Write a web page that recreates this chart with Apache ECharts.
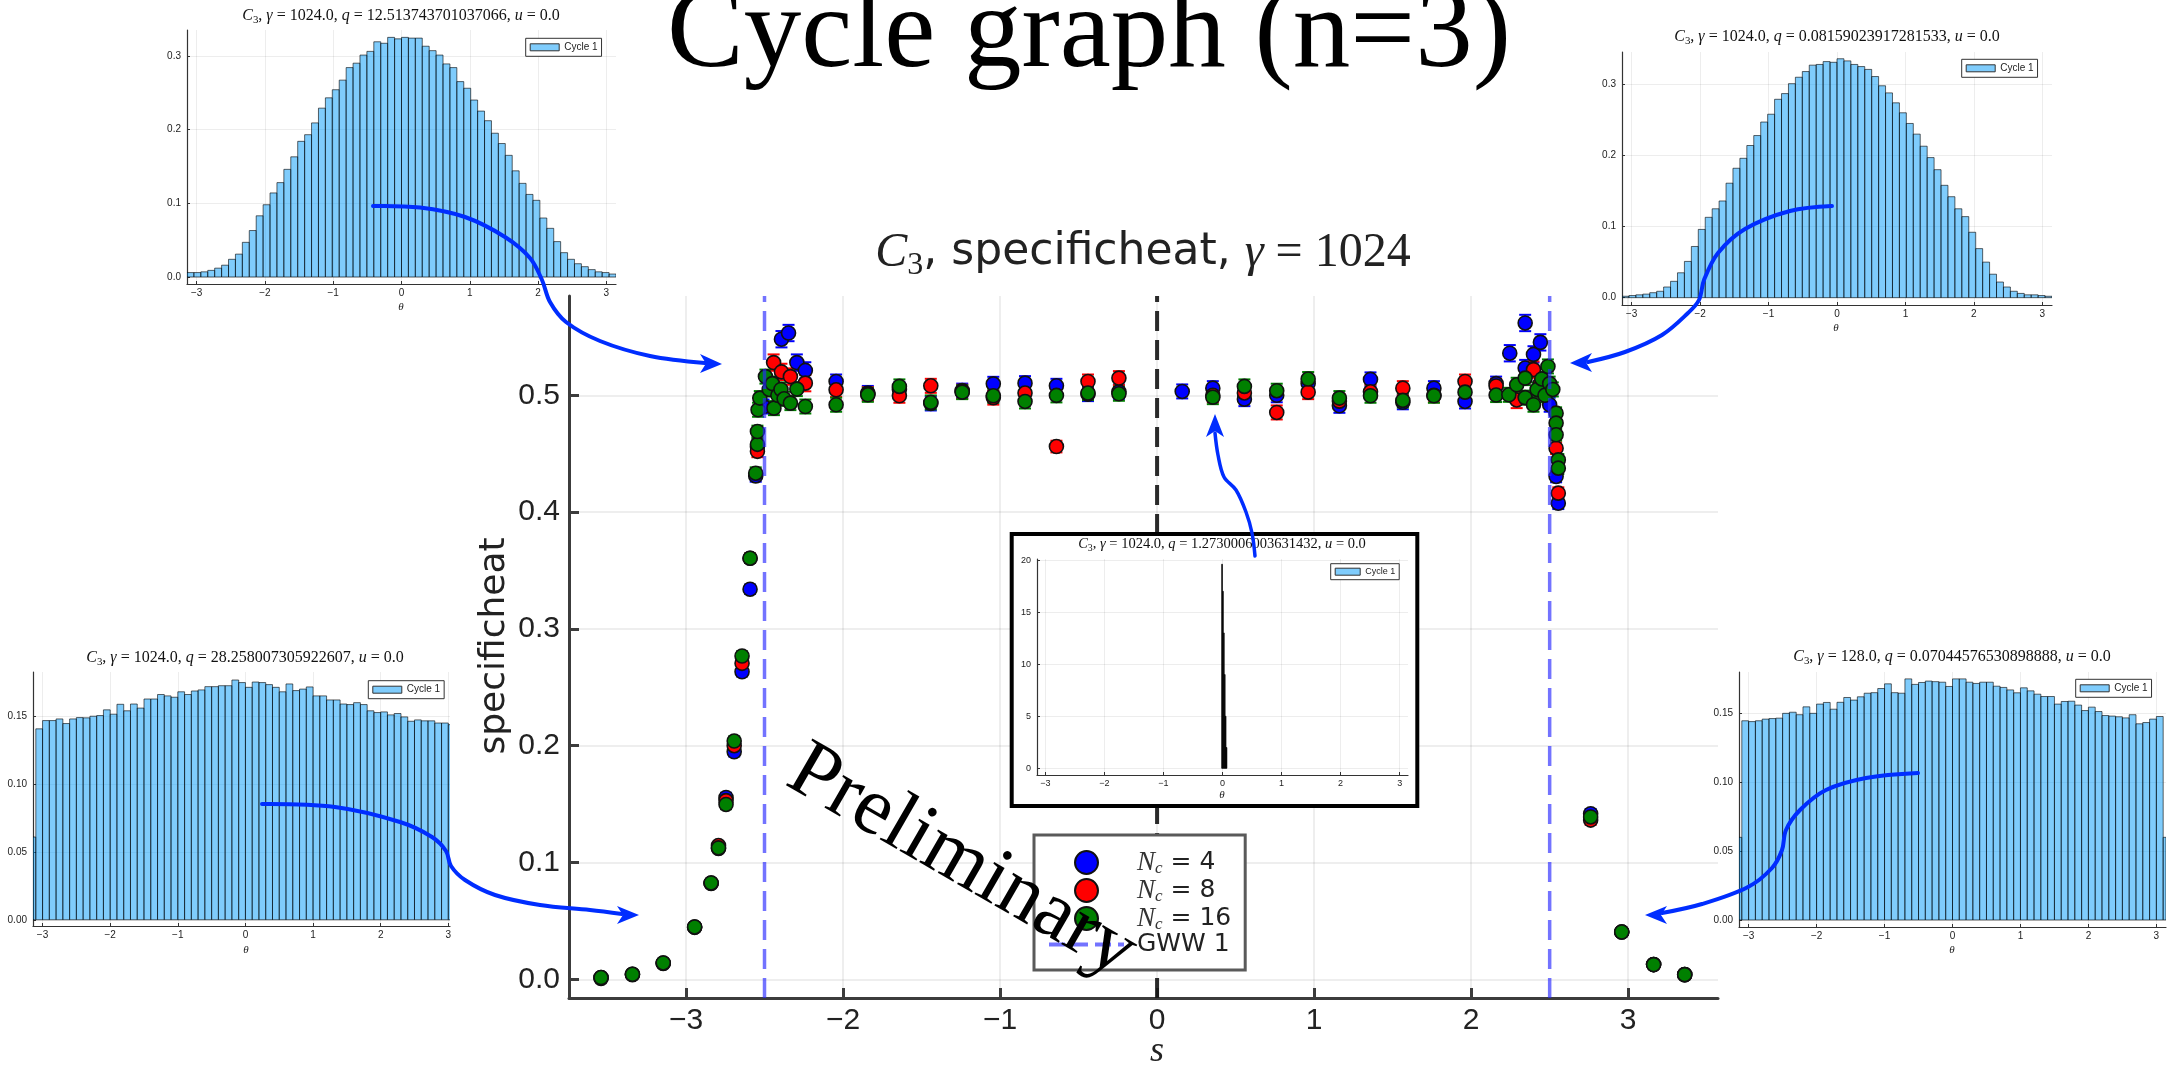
<!DOCTYPE html>
<html><head><meta charset="utf-8">
<script src="https://cdn.jsdelivr.net/npm/echarts@6/dist/echarts.min.js"></script>
<style>html,body{margin:0;padding:0;background:#fff}#c{width:2179px;height:1072px}</style>
</head><body><div id="c"></div>
<script>
// ---------------- DATA ----------------
const xTicks = [-3, -2, -1, 0, 1, 2, 3];
const yTicksMain = [0, 0.1, 0.2, 0.3, 0.4, 0.5];
const thetaTicks = [-3, -2, -1, 0, 1, 2, 3];
const ticksAB = [0, 0.1, 0.2, 0.3];
const ticksCD = [0, 0.05, 0.10, 0.15];
const ticksE = [0, 5, 10, 15, 20];

// [s, specificheat, error]
const nc4 = [
 [-3.541,0.0008,0.002],[-3.341,0.0040,0.002],[-3.145,0.0135,0.002],[-2.945,0.0445,0.003],
 [-2.840,0.0820,0.003],[-2.793,0.1120,0.003],[-2.745,0.1557,0.004],[-2.693,0.1948,0.004],
 [-2.643,0.2633,0.004],[-2.592,0.3340,0.004],[-2.556,0.4310,0.005],[-2.545,0.4560,0.005],
 [-2.506,0.4904,0.006],[-2.392,0.5480,0.007],[-2.347,0.5533,0.007],[-2.294,0.5280,0.007],
 [-2.240,0.5213,0.007],[-2.044,0.5118,0.006],[-1.842,0.5020,0.006],[-1.641,0.5050,0.006],
 [-1.441,0.4930,0.006],[-1.241,0.5040,0.006],[-1.043,0.5098,0.006],[-0.841,0.5104,0.006],
 [-0.641,0.5081,0.006],[-0.440,0.5010,0.006],[-0.243,0.5030,0.006],[0.160,0.5033,0.006],
 [0.355,0.5061,0.006],[0.556,0.4967,0.006],[0.762,0.5000,0.006],[0.962,0.5100,0.006],
 [1.161,0.4910,0.006],[1.359,0.5136,0.006],[1.565,0.4940,0.006],[1.763,0.5061,0.006],
 [1.961,0.4947,0.006],[2.159,0.5100,0.006],[2.246,0.5360,0.007],[2.344,0.5619,0.007],
 [2.344,0.5233,0.007],[2.397,0.5350,0.007],[2.441,0.5453,0.007],[2.500,0.4919,0.006],
 [2.541,0.4305,0.005],[2.555,0.4076,0.005],[2.761,0.1418,0.004],[2.959,0.0405,0.003],
 [3.162,0.0126,0.002],[3.360,0.0040,0.002]
];
const nc8 = [
 [-3.541,0.0015,0.002],[-3.341,0.0043,0.002],[-3.145,0.0140,0.002],[-2.945,0.0448,0.003],
 [-2.840,0.0825,0.003],[-2.793,0.1145,0.003],[-2.745,0.1530,0.004],[-2.693,0.2000,0.004],
 [-2.643,0.2705,0.004],[-2.592,0.3605,0.004],[-2.545,0.4520,0.005],[-2.442,0.5280,0.007],
 [-2.392,0.5200,0.007],[-2.335,0.5160,0.007],[-2.240,0.5104,0.007],[-2.044,0.5047,0.006],
 [-1.842,0.5010,0.006],[-1.641,0.4996,0.006],[-1.441,0.5081,0.006],[-1.241,0.5030,0.006],
 [-1.043,0.4980,0.006],[-0.841,0.5019,0.006],[-0.641,0.4561,0.005],[-0.440,0.5118,0.006],
 [-0.243,0.5147,0.006],[0.355,0.5000,0.006],[0.556,0.5020,0.006],[0.762,0.4853,0.006],
 [0.962,0.5027,0.006],[1.161,0.4950,0.006],[1.359,0.5030,0.006],[1.565,0.5061,0.006],
 [1.763,0.5000,0.006],[1.961,0.5118,0.006],[2.159,0.5080,0.006],[2.290,0.4960,0.007],
 [2.397,0.5220,0.007],[2.440,0.5100,0.007],[2.541,0.4547,0.005],[2.555,0.4162,0.005],
 [2.761,0.1363,0.004],[2.959,0.0405,0.003],[3.162,0.0126,0.002],[3.360,0.0040,0.002]
];
const nc16 = [
 [-3.541,0.0015,0.002],[-3.341,0.0043,0.002],[-3.145,0.0140,0.002],[-2.945,0.0448,0.003],
 [-2.840,0.0825,0.003],[-2.793,0.1125,0.003],[-2.745,0.1497,0.004],[-2.693,0.2040,0.004],
 [-2.643,0.2768,0.004],[-2.592,0.3605,0.004],[-2.556,0.4333,0.005],[-2.545,0.4580,0.005],
 [-2.545,0.4690,0.005],[-2.541,0.4876,0.006],[-2.530,0.4976,0.006],[-2.494,0.5160,0.006],
 [-2.470,0.5050,0.006],[-2.450,0.5100,0.006],[-2.440,0.4890,0.006],[-2.415,0.5000,0.006],
 [-2.395,0.5050,0.006],[-2.375,0.4970,0.006],[-2.335,0.4933,0.006],[-2.294,0.5053,0.006],
 [-2.240,0.4904,0.006],[-2.044,0.4919,0.006],[-1.842,0.5004,0.006],[-1.641,0.5076,0.006],
 [-1.441,0.4939,0.006],[-1.241,0.5027,0.006],[-1.043,0.4996,0.006],[-0.841,0.4947,0.006],
 [-0.641,0.4999,0.006],[-0.440,0.5019,0.006],[-0.243,0.5013,0.006],[0.355,0.4984,0.006],
 [0.556,0.5076,0.006],[0.762,0.5039,0.006],[0.962,0.5139,0.006],[1.161,0.4976,0.006],
 [1.359,0.4996,0.006],[1.565,0.4956,0.006],[1.763,0.4996,0.006],[1.961,0.5027,0.006],
 [2.159,0.5002,0.006],[2.240,0.5004,0.006],[2.290,0.5090,0.006],[2.344,0.5147,0.006],
 [2.344,0.4980,0.006],[2.397,0.4919,0.006],[2.420,0.5050,0.006],[2.450,0.5140,0.006],
 [2.470,0.5000,0.006],[2.489,0.5247,0.006],[2.500,0.5100,0.006],[2.520,0.5050,0.006],
 [2.541,0.4847,0.005],[2.541,0.4762,0.005],[2.541,0.4662,0.005],[2.555,0.4447,0.005],
 [2.555,0.4376,0.005],[2.761,0.1390,0.004],[2.959,0.0405,0.003],[3.162,0.0126,0.002],
 [3.360,0.0040,0.002]
];
const gwwS = [-2.5, 2.5];
const zeroS = 0;

// histogram heights (inset panels)
const histA = [0.006,0.006,0.007,0.009,0.012,0.016,0.024,0.031,0.047,0.063,0.083,0.098,0.114,0.128,0.146,0.163,0.184,0.193,0.209,0.229,0.243,0.254,0.267,0.284,0.290,0.301,0.306,0.319,0.317,0.325,0.323,0.325,0.324,0.324,0.313,0.307,0.301,0.289,0.284,0.265,0.256,0.240,0.225,0.212,0.195,0.181,0.165,0.144,0.127,0.112,0.104,0.080,0.066,0.048,0.033,0.024,0.018,0.014,0.010,0.007,0.006,0.004];
const histB = [0.002,0.003,0.004,0.005,0.007,0.009,0.015,0.023,0.035,0.051,0.072,0.096,0.113,0.125,0.136,0.161,0.182,0.196,0.214,0.228,0.247,0.258,0.279,0.287,0.301,0.310,0.318,0.327,0.328,0.332,0.331,0.336,0.333,0.328,0.325,0.321,0.311,0.298,0.288,0.274,0.260,0.245,0.230,0.213,0.197,0.180,0.158,0.142,0.125,0.114,0.092,0.069,0.050,0.033,0.022,0.015,0.009,0.006,0.004,0.004,0.003,0.002];
const histC = [0.061,0.1407,0.1468,0.1468,0.148,0.1446,0.148,0.149,0.1488,0.150,0.1505,0.1547,0.1515,0.1588,0.154,0.159,0.156,0.1627,0.1627,0.166,0.165,0.164,0.168,0.166,0.1686,0.1694,0.1718,0.1718,0.1725,0.1725,0.1767,0.1748,0.1713,0.1752,0.1748,0.1733,0.1713,0.168,0.1738,0.1689,0.170,0.1716,0.165,0.165,0.162,0.162,0.159,0.1586,0.160,0.1586,0.154,0.1527,0.1532,0.151,0.152,0.1495,0.1463,0.1473,0.1466,0.1466,0.145,0.145,0.1438];
const histD = [0.060,0.1446,0.144,0.1446,0.1458,0.1462,0.1465,0.150,0.1508,0.149,0.1547,0.150,0.1567,0.1579,0.153,0.158,0.1615,0.1596,0.162,0.1646,0.165,0.168,0.1714,0.165,0.1646,0.175,0.171,0.1724,0.1734,0.173,0.1726,0.1695,0.175,0.175,0.1726,0.1717,0.1726,0.1726,0.1697,0.1688,0.167,0.1649,0.1685,0.1663,0.1639,0.1622,0.1622,0.1567,0.1586,0.1588,0.156,0.152,0.1545,0.1513,0.1484,0.148,0.1475,0.1467,0.149,0.1424,0.1433,0.1458,0.1477,0.060];
const histE = [19.6,17.0,13.0,9.0,5.0,2.0];

// bin edges
function evenEdges(start, width, n) { const e = []; for (let i = 0; i <= n; i++) e.push(start + i * width); return e; }
const edgesAB = evenEdges(-Math.PI, 2 * Math.PI / 62, 62);
const innerCD = evenEdges(-3.1, 0.1, 62);
const edgesC = [-Math.PI].concat(innerCD);
const edgesD = [-Math.PI].concat(innerCD, [Math.PI]);
const edgesE = evenEdges(-0.015, 0.015, 6);

// ---------------- CHART ----------------
const chart = echarts.init(document.getElementById('c'), null, {renderer: 'canvas'});
const MINUS = '\u2212';
const fmtInt = v => (v < 0 ? MINUS + Math.abs(v) : String(v));
const fmtFix = d => v => (v < 0 ? MINUS : '') + Math.abs(v).toFixed(d);
const histFill = 'rgba(0,154,250,0.5)';
const BLUEARROW = 'rgb(0,45,255)';
const SERIF = 'Liberation Serif';
const GWWCOLOR = 'rgba(40,40,255,0.65)';

function histSeries(idx, edges, heights, fill) {
  return {
    type: 'custom', name: 'Cycle 1', xAxisIndex: idx, yAxisIndex: idx, z: 10, clip: true, silent: true,
    data: heights.map((h, i) => [edges[i], edges[i + 1], h]),
    encode: {x: [0, 1], y: 2},
    renderItem(params, api) {
      const a = api.coord([api.value(0), 0]);
      const b = api.coord([api.value(1), api.value(2)]);
      return {type: 'rect', shape: {x: a[0], y: b[1], width: b[0] - a[0], height: a[1] - b[1]},
        style: {fill: fill, stroke: 'rgba(0,0,0,0.6)', lineWidth: 1}};
    }
  };
}
function errSeries(name, data, color) {
  return {
    type: 'custom', name: name, xAxisIndex: 0, yAxisIndex: 0, z: 3, silent: true,
    data: data, encode: {x: 0, y: 1},
    renderItem(params, api) {
      const x = api.value(0), y = api.value(1), e = api.value(2);
      const t = api.coord([x, y + e]), b = api.coord([x, y - e]);
      const w = 6, st = {stroke: color, lineWidth: 2};
      return {type: 'group', children: [
        {type: 'line', shape: {x1: t[0], y1: t[1], x2: b[0], y2: b[1]}, style: st},
        {type: 'line', shape: {x1: t[0] - w, y1: t[1], x2: t[0] + w, y2: t[1]}, style: st},
        {type: 'line', shape: {x1: b[0] - w, y1: b[1], x2: b[0] + w, y2: b[1]}, style: st}
      ]};
    }
  };
}
function scatterSeries(name, data, color) {
  return {type: 'scatter', name: name, xAxisIndex: 0, yAxisIndex: 0, z: 3, data: data,
    encode: {x: 0, y: 1}, symbol: 'circle', symbolSize: 14,
    itemStyle: {color: color, borderColor: '#111', borderWidth: 1.6, opacity: 1}};
}
function vline(name, s, color, width, dash) {
  return {type: 'line', name: name, xAxisIndex: 0, yAxisIndex: 0, z: 4, symbol: 'none', showSymbol: false, silent: true,
    data: [[s, -0.016], [s, 0.585]],
    itemStyle: {color: color},
    lineStyle: {color: color, width: width, type: dash}};
}

const MAINAX = '#3c3c3c';
function mainX() {
  return {gridIndex: 0, type: 'value', min: -3.745, max: 3.572, splitNumber: 7,
    axisLine: {show: true, onZero: false, lineStyle: {color: MAINAX, width: 3}},
    axisTick: {show: true, inside: true, length: 10, customValues: xTicks, lineStyle: {color: MAINAX, width: 3}},
    axisLabel: {customValues: xTicks, formatter: fmtInt, fontFamily: 'Liberation Sans', fontSize: 30, color: '#222', margin: 8},
    splitLine: {show: true, lineStyle: {color: 'rgba(0,0,0,0.09)', width: 1.5}}};
}
function mainY() {
  return {gridIndex: 0, type: 'value', min: -0.016, max: 0.585, splitNumber: 6,
    axisLine: {show: true, onZero: false, lineStyle: {color: MAINAX, width: 3}},
    axisTick: {show: true, inside: true, length: 10, customValues: yTicksMain, lineStyle: {color: MAINAX, width: 3}},
    axisLabel: {customValues: yTicksMain, formatter: fmtFix(1), fontFamily: 'Liberation Sans', fontSize: 30, color: '#222', margin: 9},
    splitLine: {show: true, lineStyle: {color: 'rgba(0,0,0,0.09)', width: 1.5}}};
}
function insetX(gi, min, max, fs) {
  return {gridIndex: gi, type: 'value', min: min, max: max, splitNumber: 6, z: 8,
    axisLine: {show: true, onZero: false, lineStyle: {color: '#333', width: 1.2}},
    axisTick: {show: true, inside: true, length: 3, customValues: thetaTicks, lineStyle: {color: '#333'}},
    axisLabel: {customValues: thetaTicks, formatter: fmtInt, fontFamily: 'Liberation Sans', fontSize: fs, color: '#222', margin: 4},
    splitLine: {show: true, lineStyle: {color: 'rgba(0,0,0,0.07)', width: 1}}};
}
function insetY(gi, min, max, ticks, fmt, fs, sn) {
  return {gridIndex: gi, type: 'value', min: min, max: max, splitNumber: sn, z: 8,
    axisLine: {show: true, onZero: false, lineStyle: {color: '#333', width: 1.2}},
    axisTick: {show: true, inside: true, length: 3, customValues: ticks, lineStyle: {color: '#333'}},
    axisLabel: {customValues: ticks, formatter: fmt, fontFamily: 'Liberation Sans', fontSize: fs, color: '#222', margin: 6},
    splitLine: {show: true, lineStyle: {color: 'rgba(0,0,0,0.07)', width: 1}}};
}
function insetLegend(left, top, iw, fs, pad) {
  return {left: left, top: top, orient: 'horizontal', padding: pad, itemWidth: iw, itemHeight: 7, itemGap: 0,
    borderColor: '#333', borderWidth: 1, backgroundColor: '#fff', selectedMode: false, z: 12,
    data: [{name: 'Cycle 1', icon: 'rect', itemStyle: {color: histFill, borderColor: '#333', borderWidth: 1}}],
    textStyle: {fontFamily: 'Liberation Sans', fontSize: fs, color: '#222'}};
}
function insetTitle(x, y, q, gam, fs) {
  return {type: 'text', x: x, y: y, z: 20, silent: true,
    style: {text: '{i|C}{s|3}{r|, }{i|γ}{r| = ' + gam + ', }{i|q}{r| = ' + q + ', }{i|u}{r| = 0.0}',
      align: 'center', verticalAlign: 'middle',
      rich: {i: {fontFamily: SERIF, fontStyle: 'italic', fontSize: fs, fill: '#111'},
             s: {fontFamily: SERIF, fontSize: fs * 0.68, fill: '#111', padding: [fs * 0.55, 0, 0, 0]},
             r: {fontFamily: SERIF, fontSize: fs, fill: '#111'}}}};
}
function thetaLabel(x, y) {
  return {type: 'text', x: x, y: y, z: 20, silent: true,
    style: {text: 'θ', fontFamily: SERIF, fontStyle: 'italic', fontSize: 11, fill: '#222', align: 'center', verticalAlign: 'middle'}};
}
function arrowLine(pts, w) {
  return {type: 'polyline', z: 60, silent: true, shape: {points: pts, smooth: 0.35},
    style: {stroke: BLUEARROW, lineWidth: w, fill: null, lineCap: 'round'}};
}
function arrowHead(pts) {
  return {type: 'polygon', z: 61, silent: true, shape: {points: pts}, style: {fill: BLUEARROW}};
}

const option = {
  animation: false,
  backgroundColor: '#fff',
  grid: [
    {left: 569, top: 296, width: 1149, height: 702},
    {left: 187, top: 30, width: 429, height: 254},
    {left: 1622, top: 52, width: 430, height: 253},
    {left: 33, top: 672, width: 417, height: 254},
    {left: 1739, top: 672, width: 427, height: 255},
    {left: 1037, top: 559, width: 371, height: 216}
  ],
  xAxis: [
    mainX(),
    insetX(1, -Math.PI, Math.PI, 10),
    insetX(2, -Math.PI, Math.PI, 10),
    insetX(3, -Math.PI, 3.025, 10),
    insetX(4, -Math.PI, Math.PI, 10),
    insetX(5, -Math.PI, Math.PI, 9)
  ],
  yAxis: [
    mainY(),
    insetY(1, -0.0095, 0.335, ticksAB, fmtFix(1), 10, 3),
    insetY(2, -0.0103, 0.3455, ticksAB, fmtFix(1), 10, 3),
    insetY(3, -0.0046, 0.1826, ticksCD, fmtFix(2), 10, 4),
    insetY(4, -0.0051, 0.180, ticksCD, fmtFix(2), 10, 4),
    insetY(5, -0.64, 20.1, ticksE, fmtInt, 9, 4)
  ],
  legend: [
    {left: 1034, top: 835, orient: 'vertical', itemWidth: 75, itemHeight: 23, itemGap: -1,
     padding: [13, 14, 13, 13], backgroundColor: '#fff', borderColor: '#5a5a5a', borderWidth: 3,
     selectedMode: false, z: 6,
     data: ['N_c = 4', 'N_c = 8', 'N_c = 16',
            {name: 'GWW 1', itemStyle: {color: 'rgba(0,0,0,0)', borderColor: 'rgba(0,0,0,0)', borderWidth: 0, opacity: 0},
             lineStyle: {color: GWWCOLOR, width: 4, type: [16, 7]}}],
     formatter: function (name) {
       if (name === 'GWW 1') return '{g|GWW 1}';
       return '{n|N}{c|c}{t| = ' + name.split('=')[1].trim() + '}';
     },
     textStyle: {lineHeight: 23, rich: {
       n: {fontFamily: SERIF, fontStyle: 'italic', fontSize: 27, lineHeight: 23, color: '#333', padding: [0, 0, 0, 8]},
       c: {fontFamily: SERIF, fontStyle: 'italic', fontSize: 17, lineHeight: 11, color: '#333', padding: [12, 0, 0, 0]},
       t: {fontFamily: 'DejaVu Sans', fontSize: 25, lineHeight: 23, color: '#222'},
       g: {fontFamily: 'DejaVu Sans', fontSize: 25, lineHeight: 23, color: '#222', padding: [0, 0, 0, 8]}
     }}},
    insetLegend(525.7, 38.3, 29, 10, [4, 4, 4, 4]),
    insetLegend(1961.7, 59.3, 29, 10, [4, 4, 4, 4]),
    insetLegend(368.3, 680.7, 29, 10, [4, 4, 4, 4]),
    insetLegend(2075.7, 679.3, 29, 10, [4, 4, 4, 4]),
    insetLegend(1330.7, 563.7, 25, 9, [3.5, 4, 3.5, 4])
  ],
  series: [
    errSeries('err4', nc4, '#0000ff'),
    scatterSeries('N_c = 4', nc4, '#0000ff'),
    errSeries('err8', nc8, '#ff0000'),
    scatterSeries('N_c = 8', nc8, '#ff0000'),
    errSeries('err16', nc16, '#008000'),
    scatterSeries('N_c = 16', nc16, '#008000'),
    vline('zero', zeroS, 'rgba(20,20,20,0.9)', 4, [20, 9]),
    vline('GWW 1', gwwS[0], GWWCOLOR, 3.5, [20, 9]),
    vline('GWW 1', gwwS[1], GWWCOLOR, 3.5, [20, 9]),
    histSeries(1, edgesAB, histA, histFill),
    histSeries(2, edgesAB, histB, histFill),
    histSeries(3, edgesC, histC, histFill),
    histSeries(4, edgesD, histD, histFill),
    histSeries(5, edgesE, histE, '#000')
  ],
  graphic: {elements: [
    {type: 'rect', z: 5, silent: true, shape: {x: 1011.7, y: 534, width: 405.6, height: 272},
     style: {fill: '#fff', stroke: '#000', lineWidth: 4}},
    {type: 'text', x: 1089, y: 36, z: 20, silent: true,
     style: {text: 'Cycle graph (n=3)', fontFamily: SERIF, fontSize: 115, fill: '#000', align: 'center', verticalAlign: 'middle'}},
    {type: 'text', x: 1143, y: 253, z: 20, silent: true,
     style: {text: '{i|C}{s|3}{n|, specificheat, }{i|γ}{r| = 1024}', align: 'center', verticalAlign: 'middle',
       rich: {i: {fontFamily: SERIF, fontStyle: 'italic', fontSize: 48, fill: '#222'},
              s: {fontFamily: SERIF, fontSize: 32, fill: '#222', padding: [26, 0, 0, 0]},
              n: {fontFamily: 'DejaVu Sans', fontSize: 44, fill: '#222'},
              r: {fontFamily: SERIF, fontSize: 48, fill: '#222'}}}},
    {type: 'text', x: 495, y: 646, rotation: Math.PI / 2, z: 20, silent: true,
     style: {text: 'specificheat', fontFamily: 'DejaVu Sans', fontSize: 36, fill: '#222', align: 'center', verticalAlign: 'middle'}},
    {type: 'text', x: 1157, y: 1052, z: 20, silent: true,
     style: {text: 's', fontFamily: SERIF, fontStyle: 'italic', fontSize: 36, fill: '#222', align: 'center', verticalAlign: 'middle'}},
    insetTitle(401, 16, '12.513743701037066', '1024.0', 16),
    insetTitle(1837, 37, '0.08159023917281533', '1024.0', 16),
    insetTitle(245, 658, '28.258007305922607', '1024.0', 16),
    insetTitle(1952, 657, '0.07044576530898888', '128.0', 16),
    insetTitle(1222, 544, '1.2730006003631432', '1024.0', 14.5),
    thetaLabel(401, 307), thetaLabel(1836, 328), thetaLabel(246, 950), thetaLabel(1952, 950), thetaLabel(1222, 795),
    {type: 'text', x: 962, y: 862, rotation: -30 * Math.PI / 180, z: 100, silent: true,
     style: {text: 'Preliminary', fontFamily: SERIF, fontSize: 82, fill: '#000', align: 'center', verticalAlign: 'middle'}},
    arrowLine([[373,206],[420,207.5],[465,217],[505,237],[530,258],[542,280],[550,302],[566,322],[600,341],[650,356],[705,363]], 4),
    arrowHead([[722,364],[700,354],[706,363.5],[700,373]]),
    arrowLine([[1832,206],[1790,211],[1745,229],[1718,253],[1704,280],[1699,300],[1688,313],[1662,335],[1625,352],[1588,362]], 4),
    arrowHead([[1570,363],[1592,353],[1586,362.5],[1592,372]]),
    arrowLine([[262,804],[335,807],[400,822],[432,837],[446,851],[451,866],[465,880],[495,895],[540,905],[590,910],[622,914]], 4),
    arrowHead([[639,915],[617,906],[623,915],[617,924]]),
    arrowLine([[1918,773],[1866,778],[1826,790],[1800,810],[1786,830],[1782,850],[1772,868],[1748,887],[1702,904],[1662,913]], 4),
    arrowHead([[1645,915],[1667,906],[1661,915],[1667,924]]),
    arrowLine([[1255,556],[1252,533],[1246,512],[1236,490],[1224,477],[1218,455],[1215,433]], 3.5),
    arrowHead([[1215,414],[1206,437],[1215,431],[1224,437]])
  ]}
};
chart.setOption(option);
</script>
</body></html>
